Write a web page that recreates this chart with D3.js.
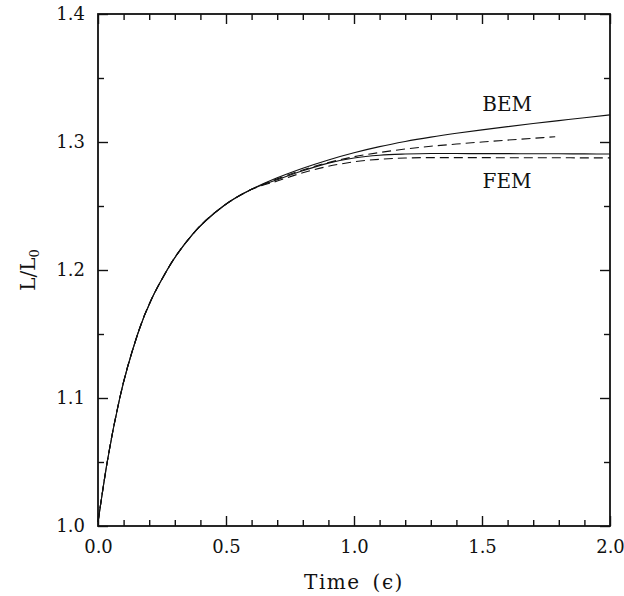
<!DOCTYPE html>
<html>
<head>
<meta charset="utf-8">
<script src="https://cdn.jsdelivr.net/npm/d3@7"></script>
<style>
  body { margin: 0; background: #fff; }
  svg { display: block; }
  text { font-family: 'DejaVu Serif', 'Liberation Serif', serif; fill: #111; }
</style>
</head>
<body>
<div id="chart"></div>
<script>
// values: the four runs coincide up to about t = 0.6
const tEarly = [0, 0.036, 0.085, 0.155, 0.27, 0.37, 0.49, 0.6]
const vEarly = [1.003, 1.05, 1.10, 1.15, 1.20, 1.228, 1.25, 1.263]

const tLate = [0.7, 0.8, 0.9, 1.0, 1.1, 1.2, 1.3, 1.4, 1.5, 1.6, 1.7, 1.8, 1.9, 2.0]
const bemSolid = [1.2720, 1.2795, 1.2860, 1.2916, 1.2964, 1.3004, 1.3038, 1.3068, 1.3095, 1.3120, 1.3144, 1.3167, 1.3190, 1.3212]
const femSolid = [1.2705, 1.2775, 1.2835, 1.2875, 1.2897, 1.2906, 1.2910, 1.2910, 1.2909, 1.2909, 1.2908, 1.2908, 1.2907, 1.2906]
const femDashed = [1.2695, 1.2760, 1.2810, 1.2845, 1.2865, 1.2875, 1.2878, 1.2878, 1.2878, 1.2877, 1.2877, 1.2877, 1.2876, 1.2876]

const tBemDashed = [0.7, 0.8, 0.9, 1.0, 1.1, 1.2, 1.3, 1.4, 1.5, 1.6, 1.7, 1.786]
const bemDashed = [1.2712, 1.2782, 1.2840, 1.2885, 1.2918, 1.2945, 1.2967, 1.2984, 1.3000, 1.3015, 1.3029, 1.3041]

const xMajor = [0, 0.5, 1.0, 1.5, 2.0]
const xMinor = [0.1, 0.2, 0.3, 0.4, 0.6, 0.7, 0.8, 0.9, 1.1, 1.2, 1.3, 1.4, 1.6, 1.7, 1.8, 1.9]
const yMajor = [1.0, 1.1, 1.2, 1.3, 1.4]
const yMinor = [1.05, 1.15, 1.25, 1.35]

const margin = { top: 14, left: 98, right: 14, bottom: 70 }
const width = 512
const height = 512

const svg = d3.select('#chart')
  .append('svg')
  .attr('width', 624)
  .attr('height', 596)

const g = svg.append('g')
  .attr('transform', `translate(${margin.left},${margin.top})`)

const x = d3.scaleLinear().domain([0, 2]).range([0, width])
const y = d3.scaleLinear().domain([1.0, 1.4]).range([height, 0])

function series(ts, vs) {
  return ts.map((t, i) => [t, vs[i]])
}
const early = series(tEarly, vEarly)
const lines = [
  { pts: early.concat(series(tLate, bemSolid)), dash: null },
  { pts: early.concat(series(tBemDashed, bemDashed)), dash: '9,5' },
  { pts: early.concat(series(tLate, femSolid)), dash: null },
  { pts: early.concat(series(tLate, femDashed)), dash: '9,5' }
]

const line = d3.line()
  .x(d => x(d[0]))
  .y(d => y(d[1]))
  .curve(d3.curveMonotoneX)

g.selectAll('.curve')
  .data(lines)
  .enter()
  .append('path')
  .attr('class', 'curve')
  .attr('d', d => line(d.pts))
  .attr('fill', 'none')
  .attr('stroke', '#111')
  .attr('stroke-width', 1.1)
  .attr('stroke-dasharray', d => d.dash)

// axes, ticks point inward on all four sides
const fmt = d3.format('.1f')
function styleAxis(sel) {
  sel.select('.domain').remove()
  sel.selectAll('line').attr('stroke', '#111').attr('stroke-width', 1.4)
  sel.selectAll('text').attr('font-size', 18).attr('fill', '#111')
}

g.append('g').attr('transform', `translate(0,${height})`)
  .call(d3.axisBottom(x).tickValues(xMajor).tickSize(-10).tickPadding(14).tickFormat(fmt))
  .call(styleAxis)
g.append('g').attr('transform', `translate(0,${height})`)
  .call(d3.axisBottom(x).tickValues(xMinor).tickSize(-6).tickFormat(''))
  .call(styleAxis)
g.append('g')
  .call(d3.axisTop(x).tickValues(xMajor).tickSize(-10).tickFormat(''))
  .call(styleAxis)
g.append('g')
  .call(d3.axisTop(x).tickValues(xMinor).tickSize(-6).tickFormat(''))
  .call(styleAxis)

g.append('g')
  .call(d3.axisLeft(y).tickValues(yMajor).tickSize(-10).tickPadding(13).tickFormat(fmt))
  .call(styleAxis)
g.append('g')
  .call(d3.axisLeft(y).tickValues(yMinor).tickSize(-6).tickFormat(''))
  .call(styleAxis)
g.append('g').attr('transform', `translate(${width},0)`)
  .call(d3.axisRight(y).tickValues(yMajor).tickSize(-10).tickFormat(''))
  .call(styleAxis)
g.append('g').attr('transform', `translate(${width},0)`)
  .call(d3.axisRight(y).tickValues(yMinor).tickSize(-6).tickFormat(''))
  .call(styleAxis)

// frame
g.append('rect')
  .attr('width', width)
  .attr('height', height)
  .attr('fill', 'none')
  .attr('stroke', '#111')
  .attr('stroke-width', 1.8)

// curve labels
g.append('text')
  .text('BEM')
  .attr('x', x(1.598))
  .attr('y', y(1.3205) - 5)
  .attr('text-anchor', 'middle')
  .attr('font-size', 20)
g.append('text')
  .text('FEM')
  .attr('x', x(1.598))
  .attr('y', y(1.2602) - 5)
  .attr('text-anchor', 'middle')
  .attr('font-size', 20)

// axis titles
const xt = g.append('text')
  .attr('x', width / 2)
  .attr('y', height + 63)
  .attr('text-anchor', 'middle')
  .attr('font-size', 20)
  .attr('letter-spacing', 1.5)
xt.append('tspan').text('Time')
xt.append('tspan').attr('dx', 12).text('(\u03f5)')

const yt = svg.append('text')
  .attr('transform', `translate(35,${margin.top + height / 2}) rotate(-90)`)
  .attr('text-anchor', 'middle')
  .attr('font-size', 20)
yt.append('tspan').text('L/L')
yt.append('tspan').attr('font-size', 13).attr('dy', 4).text('0')
</script>
</body>
</html>
